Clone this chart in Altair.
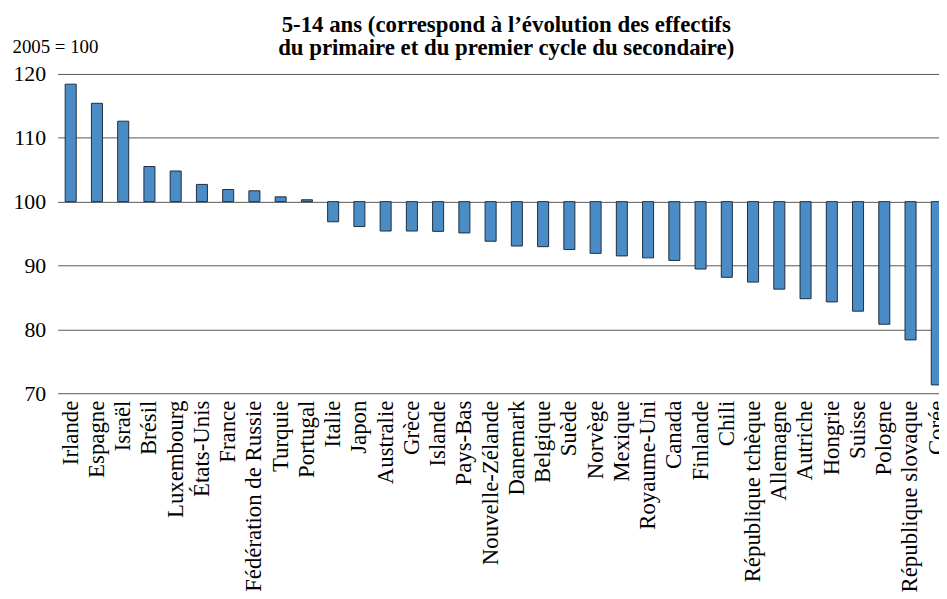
import altair as alt
import pandas as pd

countries = [
    "Irlande", "Espagne", "Israël", "Brésil", "Luxembourg", "États-Unis", "France",
    "Fédération de Russie", "Turquie", "Portugal", "Italie", "Japon", "Australie",
    "Grèce", "Islande", "Pays-Bas", "Nouvelle-Zélande", "Danemark", "Belgique",
    "Suède", "Norvège", "Mexique", "Royaume-Uni", "Canada", "Finlande", "Chili",
    "République tchèque", "Allemagne", "Autriche", "Hongrie", "Suisse", "Pologne",
    "République slovaque", "Corée",
]
values = [
    118.4, 115.4, 112.6, 105.5, 104.8, 102.7, 101.9,
    101.7, 100.75, 100.3, 96.85, 96.1, 95.4,
    95.4, 95.35, 95.1, 93.8, 93.05, 92.95,
    92.5, 91.9, 91.5, 91.2, 90.8, 89.45, 88.15,
    87.4, 86.3, 84.8, 84.3, 82.85, 80.8,
    78.35, 71.3,
]
y_ticks = [70, 80, 90, 100, 110, 120]
title_lines = [
    "5-14 ans (correspond à l’évolution des effectifs",
    "du primaire et du premier cycle du secondaire)",
]
unit_label = "2005 = 100"

df = pd.DataFrame({"pays": countries, "indice": values})

FONT = "'Liberation Serif', 'Times New Roman', 'DejaVu Serif', serif"

chart = (
    alt.Chart(df)
    .mark_bar(clip=True, color="#4a8dc6", stroke="#1f2d3d", strokeWidth=1)
    .encode(
        x=alt.X(
            "pays:N",
            sort=None,
            scale=alt.Scale(range=[0, 900], paddingInner=0.58, paddingOuter=0.29),
            axis=alt.Axis(
                title=None,
                labelAngle=-90,
                labelFontSize=23,
                labelFont=FONT,
                labelColor="black",
                labelPadding=7,
                labelLimit=400,
                ticks=False,
                domain=False,
                labelOverlap=False,
            ),
        ),
        y=alt.Y(
            "indice:Q",
            scale=alt.Scale(domain=[70, 120], nice=False, zero=False),
            axis=alt.Axis(
                values=y_ticks,
                labelFontSize=22,
                labelFont=FONT,
                labelColor="black",
                labelPadding=12,
                ticks=False,
                domain=False,
                grid=True,
                gridColor="#555555",
                gridOpacity=1,
                gridWidth=1,
                title=unit_label,
                titleAngle=0,
                titleAlign="left",
                titleBaseline="alphabetic",
                titleX=-46,
                titleY=-22,
                titleFont=FONT,
                titleFontSize=19,
                titleFontWeight="normal",
                titleColor="black",
            ),
        ),
        y2=alt.datum(100),
    )
    .properties(
        width=889,
        height=322,
        autosize=alt.AutoSizeParams(type="none"),
        padding={"left": 50, "top": 64, "right": 0, "bottom": 200},
        title=alt.TitleParams(
            text=title_lines,
            font=FONT,
            fontSize=23,
            fontWeight="bold",
            color="black",
            anchor="middle",
            dx=8,
            dy=29,
            offset=6,
            lineHeight=23,
        ),
    )
    .configure_view(stroke=None)
)

chart.save("out.html", embed_options={"renderer": "svg", "actions": False})
